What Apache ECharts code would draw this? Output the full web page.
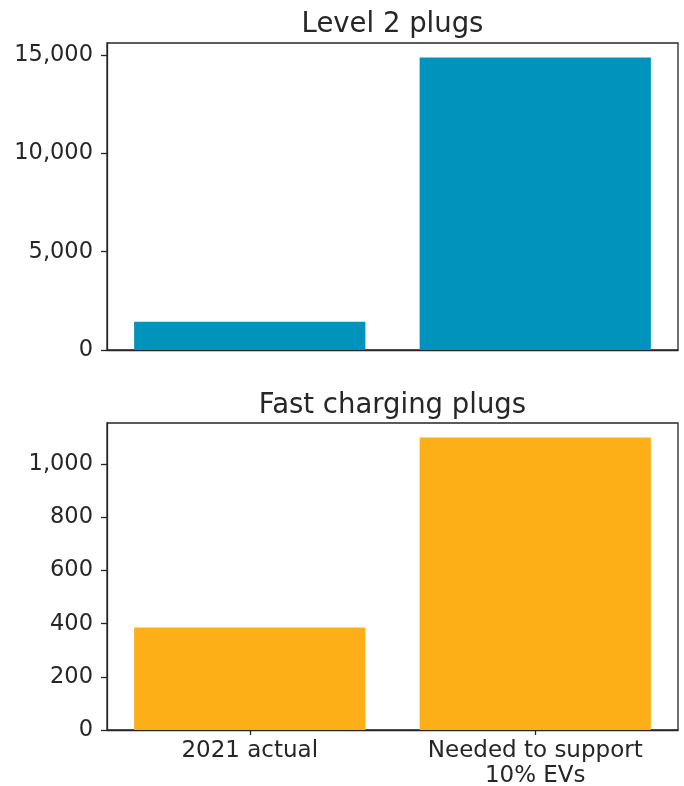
<!DOCTYPE html>
<html>
<head>
<meta charset="utf-8">
<script src="https://cdn.jsdelivr.net/npm/echarts@6/dist/echarts.min.js"></script>
<style>
html,body{margin:0;padding:0;background:#fff;}
#chart{width:684px;height:786px;}
</style>
</head>
<body>
<div id="chart"></div>
<script>
const categories = ["2021 actual", "Needed to support\n10% EVs"];
const level2Values = [1440, 14870];
const fastValues = [386, 1100];
const level2Ticks = [0, 5000, 10000, 15000];
const fastTicks = [0, 200, 400, 600, 800, 1000];
const titles = ["Level 2 plugs", "Fast charging plugs"];

const FONT = "DejaVu Sans";
const TXT = "#262626";
const fmt = v => Number(v).toLocaleString("en-US");

const chart = echarts.init(document.getElementById("chart"), null, {renderer: "canvas"});

function yAxis(idx, max, ticks) {
  return {
    type: "value", gridIndex: idx, min: 0, max: max,
    splitLine: {show: false},
    axisLine: {show: true, lineStyle: {color: TXT, width: 1.3}},
    axisTick: {show: true, length: 6, inside: false, customValues: ticks, lineStyle: {color: TXT, width: 1.3}},
    axisLabel: {customValues: ticks, formatter: fmt, color: TXT, fontFamily: FONT, fontSize: 22.5, margin: 14}
  };
}

chart.setOption({
  animation: false,
  backgroundColor: "#fff",
  title: [
    {text: titles[0], left: 387.5, top: 6, textAlign: "center",
     textStyle: {fontFamily: FONT, fontSize: 27.5, fontWeight: "normal", color: TXT}},
    {text: titles[1], left: 387.5, top: 387, textAlign: "center",
     textStyle: {fontFamily: FONT, fontSize: 27.5, fontWeight: "normal", color: TXT}}
  ],
  grid: [
    {left: 107, right: 6, top: 43, height: 307, show: true, borderColor: TXT, borderWidth: 1.3,
     backgroundColor: "transparent", containLabel: false, outerBoundsMode: "none"},
    {left: 107, right: 6, top: 423, height: 307, show: true, borderColor: TXT, borderWidth: 1.3,
     backgroundColor: "transparent", containLabel: false, outerBoundsMode: "none"}
  ],
  xAxis: [
    {type: "category", gridIndex: 0, data: categories,
     axisLine: {show: true, lineStyle: {color: TXT, width: 1.3}},
     axisTick: {show: false}, axisLabel: {show: false}},
    {type: "category", gridIndex: 1, data: categories,
     axisLine: {show: true, lineStyle: {color: TXT, width: 1.3}},
     axisTick: {show: true, alignWithLabel: true, length: 5, lineStyle: {color: TXT, width: 1.3}},
     axisLabel: {color: TXT, fontFamily: FONT, fontSize: 23, lineHeight: 25, margin: 9, align: "center"}}
  ],
  yAxis: [
    yAxis(0, 15613, level2Ticks),
    yAxis(1, 1155, fastTicks)
  ],
  series: [
    {type: "bar", xAxisIndex: 0, yAxisIndex: 0, data: level2Values, barWidth: "81%",
     itemStyle: {color: "#0093bb"}},
    {type: "bar", xAxisIndex: 1, yAxisIndex: 1, data: fastValues, barWidth: "81%",
     itemStyle: {color: "#fdaf18"}}
  ]
});
</script>
</body>
</html>
